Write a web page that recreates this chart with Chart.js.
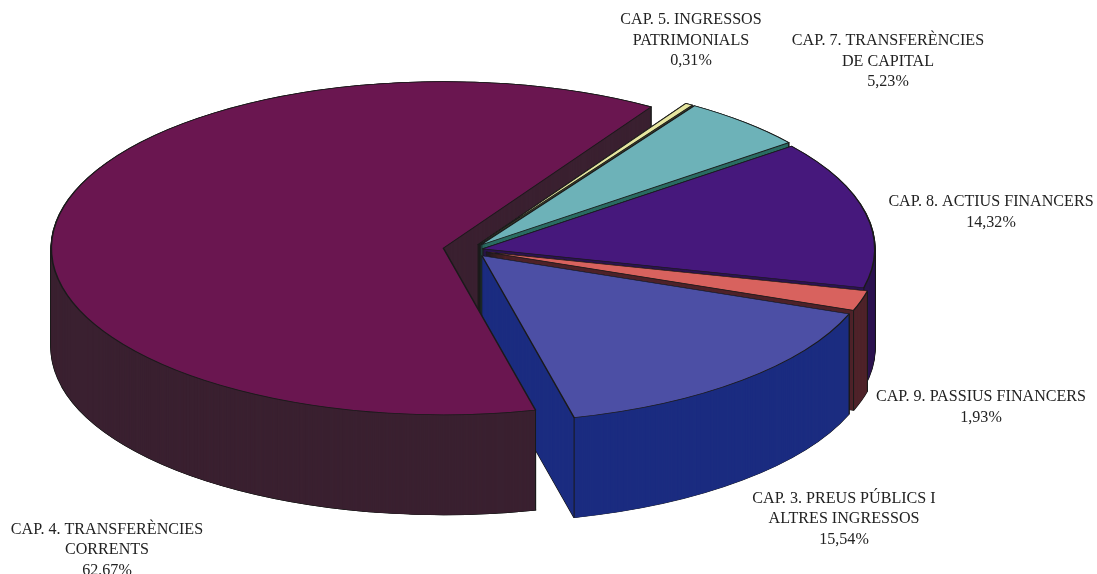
<!DOCTYPE html>
<html><head><meta charset="utf-8">
<style>html,body{margin:0;padding:0;background:#fff}canvas{display:block}</style>
<script src="https://cdn.jsdelivr.net/npm/chart.js@4"></script>
</head><body>
<canvas id="c" width="1097" height="574"></canvas>
<script>
const categories = [
  ["CAP. 4. TRANSFERÈNCIES","CORRENTS"],
  ["CAP. 5. INGRESSOS","PATRIMONIALS"],
  ["CAP. 7. TRANSFERÈNCIES","DE CAPITAL"],
  ["CAP. 8. ACTIUS FINANCERS"],
  ["CAP. 9. PASSIUS FINANCERS"],
  ["CAP. 3. PREUS PÚBLICS I","ALTRES INGRESSOS"]
];
const shares = [62.67, 0.31, 5.23, 14.32, 1.93, 15.54];
const topColors = ["#6a1650","#e6e6a0","#6db2b8","#46187c","#d8625e","#4c4fa5"];
const sideColors = ["#3a2030","#4a4a30","#2a6c62","#2c1450","#4e2229","#1b2c80"];
const explode = [27, 15, 15, 13, 17, 18];
const labelAnchors = [[107,529.5],[691,20],[888,41],[991,202],[981,397],[844,498.5]];
const drawOrder = [1,2,3,4,5];
const SQUASH = 0.425, DEPTH = 100, LINE = "#1a1a1a";
const midAngles = [];

function fmt(v){ return v.toFixed(2).replace('.',',') + '%'; }

function place(ctx, arc, i, y){
  const mid = midAngles[i];
  ctx.translate(arc.x + Math.cos(mid)*explode[i], arc.y + y + Math.sin(mid)*explode[i]*SQUASH);
  ctx.scale(1, SQUASH);
  ctx.translate(-arc.x, -arc.y);
}
function paint(ctx, arc, i, y, fill, stroke, width){
  const saved = arc.options;
  arc.options = {backgroundColor:fill, borderColor:stroke, borderWidth:width, borderAlign:'center',
    borderJoinStyle:'round', borderRadius:0, borderDash:[], borderDashOffset:0, offset:0, spacing:0, circular:true};
  ctx.save(); place(ctx, arc, i, y); arc.draw(ctx); ctx.restore();
  arc.options = saved;
}
function corner(ctx, arc, i, angle){
  const mid = midAngles[i];
  const x = arc.x + Math.cos(mid)*explode[i] + Math.cos(angle)*arc.outerRadius;
  const y = arc.y + Math.sin(mid)*explode[i]*SQUASH + Math.sin(angle)*arc.outerRadius*SQUASH;
  ctx.beginPath(); ctx.moveTo(x,y); ctx.lineTo(x,y+DEPTH);
  ctx.strokeStyle = LINE; ctx.lineWidth = 1; ctx.stroke();
}
function body(ctx, arc, i, full){
  if(full){ for(let d=DEPTH; d>=0; d--) paint(ctx, arc, i, d, sideColors[i], LINE, 1.6); }
  else paint(ctx, arc, i, DEPTH, sideColors[i], LINE, 1.6);
  for(let d=DEPTH; d>=0; d--) paint(ctx, arc, i, d, sideColors[i], LINE, 0);
  if(Math.sin(arc.startAngle) > 0) corner(ctx, arc, i, arc.startAngle);
  if(full) corner(ctx, arc, i, arc.endAngle);
}
const pie3d = {
  id:'pie3d',
  beforeDatasetsDraw(chart){
    const ctx = chart.ctx, arcs = chart.getDatasetMeta(0).data;
    arcs.forEach((a,i)=>{ midAngles[i] = (a.startAngle + a.endAngle)/2; });
    ctx.save();
    body(ctx, arcs[0], 0, true);
    drawOrder.forEach(i=>{
      body(ctx, arcs[i], i, true);
      paint(ctx, arcs[i], i, 0, topColors[i], LINE, 1.6);
    });
    // front part of the large slice sits before the neighbouring slice
    const a = arcs[0], endA = a.endAngle, circ = a.circumference;
    a.endAngle = a.startAngle + Math.PI/2; a.circumference = Math.PI/2;
    body(ctx, a, 0, false);
    a.endAngle = endA; a.circumference = circ;
    paint(ctx, a, 0, 0, topColors[0], LINE, 1.6);
    ctx.restore();
    return false;
  },
  afterDraw(chart){
    const ctx = chart.ctx;
    ctx.save();
    ctx.font = '16.1px "Liberation Serif"';
    ctx.fillStyle = '#222';
    ctx.textAlign = 'center'; ctx.textBaseline = 'middle';
    categories.forEach((lines,i)=>{
      const [x,y] = labelAnchors[i];
      [...lines, fmt(shares[i])].forEach((t,n)=>ctx.fillText(t, x, y + n*20.5));
    });
    ctx.restore();
  }
};
new Chart(document.getElementById('c'), {
  type:'pie',
  data:{labels:categories, datasets:[{data:shares, backgroundColor:topColors, borderColor:LINE, borderWidth:1.6}]},
  options:{
    responsive:false, animation:false, events:[],
    rotation:166.4, radius:392,
    layout:{padding:{right:157,bottom:74}},
    plugins:{legend:{display:false},tooltip:{enabled:false},title:{display:false}}
  },
  plugins:[pie3d]
});
</script>
</body></html>
